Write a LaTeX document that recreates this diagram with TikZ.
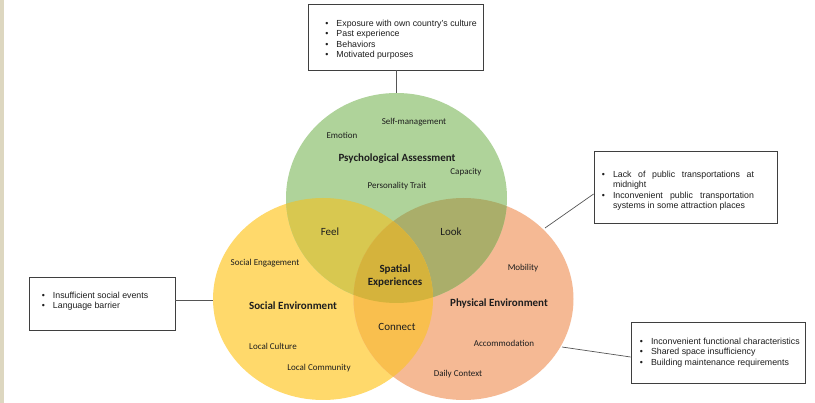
\documentclass[tikz,border=0pt]{standalone}
\usepackage{fontspec}
\setmainfont{Carlito}
\newfontfamily\arialfont{Liberation Sans}
\usetikzlibrary{calc}
\definecolor{gcol}{HTML}{AFD39A}
\definecolor{ycol}{HTML}{FFD96B}
\definecolor{ocol}{HTML}{F5B994}
\definecolor{feelcol}{HTML}{D8C850}
\definecolor{lookcol}{HTML}{AAAE6A}
\definecolor{conncol}{HTML}{F9BF4E}
\definecolor{centcol}{HTML}{D5B33C}
\definecolor{txt}{HTML}{1E1E1E}
\definecolor{boxline}{HTML}{3F3F3F}
\definecolor{linegray}{HTML}{555555}
\definecolor{beige}{HTML}{DDD7C0}
\newcommand\bitem[1]{\leavevmode\llap{•\hspace{8pt}}#1}
\begin{document}
\begin{tikzpicture}[x=1pt,y=-1pt,
  small/.style={font=\fontsize{9}{11}\selectfont, text=txt, inner sep=0pt},
  title/.style={font=\bfseries\fontsize{11}{13}\selectfont, text=txt, inner sep=0pt, align=center},
  zone/.style={font=\fontsize{11}{13}\selectfont, text=txt, inner sep=0pt},
  infobox/.style={draw=boxline, line width=0.8pt, fill=white, inner sep=0pt, rectangle,
    font=\arialfont\fontsize{8.8}{10.5}\selectfont, text=txt},
  conn/.style={draw=linegray, line width=0.7pt}]
\useasboundingbox (0,0) rectangle (815,403);
\fill[white] (0,0) rectangle (815,403);
\fill[beige] (0,0) rectangle (4,403);

% circle centres
\coordinate (gc) at (396.5,198);
\coordinate (yc) at (323,299);
\coordinate (oc) at (463.5,299);

% base fills
\fill[ycol] (yc) ellipse [x radius=110pt, y radius=101pt];
\fill[ocol] (oc) ellipse [x radius=110pt, y radius=101pt];
\fill[gcol] (gc) ellipse [x radius=110.5pt, y radius=105pt];
% pairwise overlaps
\begin{scope}
  \clip (gc) ellipse [x radius=110.5pt, y radius=105pt];
  \fill[feelcol] (yc) ellipse [x radius=110pt, y radius=101pt];
  \fill[lookcol] (oc) ellipse [x radius=110pt, y radius=101pt];
\end{scope}
\begin{scope}
  \clip (yc) ellipse [x radius=110pt, y radius=101pt];
  \fill[conncol] (oc) ellipse [x radius=110pt, y radius=101pt];
\end{scope}
% triple overlap
\begin{scope}
  \clip (gc) ellipse [x radius=110.5pt, y radius=105pt];
  \clip (yc) ellipse [x radius=110pt, y radius=101pt];
  \fill[centcol] (oc) ellipse [x radius=110pt, y radius=101pt];
\end{scope}

% attachment points on circle edges
\coordinate (gtop) at (396,93);
\coordinate (yw) at (213,300);
\coordinate (one) at (545,228);
\coordinate (ose) at (562,347);

% labels
\node[small] (selfm) at (414,122) {Self-management};
\node[small] (emo) at (342,135) {Emotion};
\node[title] (psy) at (397,159) {Psychological Assessment};
\node[small] (cap) at (466,172) {Capacity};
\node[small] (pers) at (397,186) {Personality Trait};
\node[zone] (feel) at (330,232) {Feel};
\node[zone] (look) at (451,232) {Look};
\node[small] (soceng) at (265,263) {Social Engagement};
\node[title] (spat) at (395,275.5) {Spatial\\Experiences};
\node[small] (mob) at (523,268) {Mobility};
\node[title] (socenv) at (293,306) {Social Environment};
\node[title] (phyenv) at (499,304) {Physical Environment};
\node[zone] (connect) at (397,327) {Connect};
\node[small] (lcult) at (273,346) {Local Culture};
\node[small] (accom) at (504,343) {Accommodation};
\node[small] (lcomm) at (319,368) {Local Community};
\node[small] (daily) at (458,374) {Daily Context};

% info boxes
\node[infobox, minimum width=175pt, minimum height=66pt] (tbox) at (396,37)
  {\parbox{175pt}{\raggedright\leftskip=28pt
   \vspace*{5pt}
   \bitem{Exposure with own country’s culture}\\
   \bitem{Past experience}\\
   \bitem{Behaviors}\\
   \bitem{Motivated purposes}}};
\node[infobox, minimum width=183pt, minimum height=72pt] (rbox) at (685.5,187)
  {\parbox{183pt}{\raggedright\leftskip=19pt
   \vspace*{7pt}
   \bitem{\makebox[141pt][s]{Lack of public transportations at}}\\
   midnight\\
   \bitem{\makebox[141pt][s]{Inconvenient public transportation}}\\
   systems in some attraction places}};
\node[infobox, minimum width=146pt, minimum height=53pt] (lbox) at (102,303.5)
  {\parbox{146pt}{\raggedright\leftskip=24pt
   \bitem{Insufficient social events}\\
   \bitem{Language barrier}\vspace{5pt}}};
\node[infobox, minimum width=174pt, minimum height=61pt] (brbox) at (718,352.5)
  {\parbox{174pt}{\raggedright\leftskip=20pt
   \bitem{Inconvenient functional characteristics}\\
   \bitem{Shared space insufficiency}\\
   \bitem{Building maintenance requirements}}};

% connectors
\draw[conn] (tbox.south) -- (gtop);
\draw[conn] ($(rbox.west)+(0,7)$) -- (one);
\draw[conn] (lbox.east |- yw) -- (yw);
\draw[conn] ($(brbox.west)+(0,4.5)$) -- (ose);
\end{tikzpicture}
\end{document}
